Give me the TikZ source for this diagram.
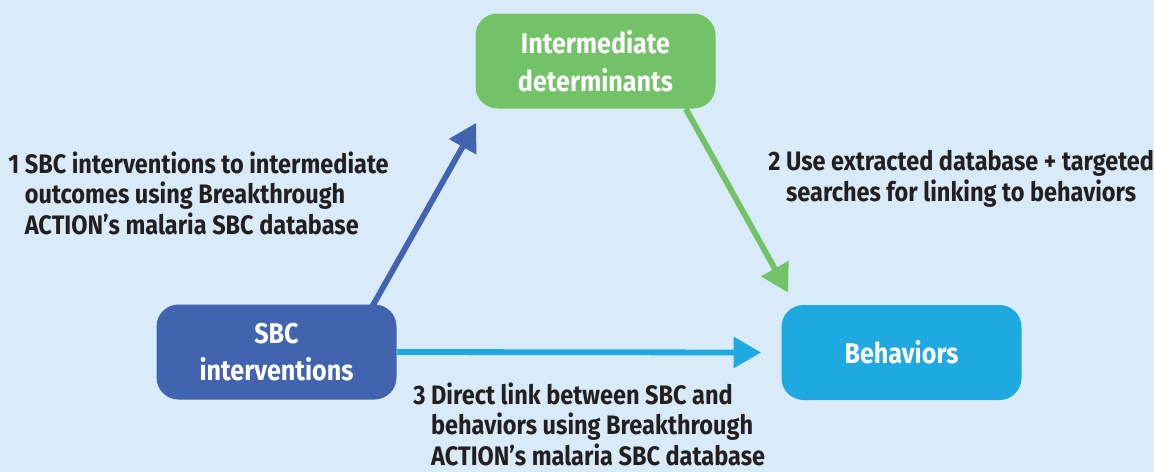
\documentclass[tikz,border=0pt]{standalone}
\usepackage{fontspec}
\setmainfont{Fira Sans}[FakeStretch=0.88]
\usetikzlibrary{arrows.meta}
\definecolor{sfondo}{HTML}{D9EBF8}
\definecolor{verde}{HTML}{72C267}
\definecolor{blu}{HTML}{4264AE}
\definecolor{azzurro}{HTML}{1EA9E1}
\definecolor{testo}{HTML}{231F20}
\tikzset{
  box/.style={rounded corners=0.44cm, minimum width=4.8cm, minimum height=1.9cm,
    text=white, align=center, font=\bfseries\fontsize{16.25}{21.5}\selectfont},
  freccia/.style={line width=3.3pt, -{Triangle[length=0.55cm,width=0.6cm]}},
  nota/.style={anchor=north west, inner sep=0pt, align=left, text=testo,
    font=\bfseries\fontsize{15.2}{17.6}\selectfont}
}
\begin{document}
\begin{tikzpicture}
  \useasboundingbox (0,0) rectangle (23.08,-9.44);
  \fill[sfondo] (0,0) rectangle (23.08,-9.44);

  %% blocchi
  \node[box, fill=verde] (inter) at (11.91,-1.22) {Intermediate\\determinants};
  \node[box, fill=blu] (sbc) at (5.53,-7.04) {SBC\\interventions};
  \node[box, fill=azzurro] (behav) at (18.03,-7.05) {Behaviors};

  %% frecce
  \coordinate (p1) at ([shift={(0.02,-0.28)}]inter.south west);
  \coordinate (p2) at ([shift={(0.14,0.24)}]behav.north west);
  \draw[freccia, blu] ([shift={(-0.5,-0.06)}]sbc.north east) -- (p1);
  \draw[freccia, verde] ([xshift=-0.6cm]inter.south east) -- (p2);
  \draw[freccia, azzurro] (sbc.east) -- ([xshift=-0.4cm]behav.west);

  %% etichette
  \node[nota] (n1) at (0.16,-3.02) {1 SBC interventions to intermediate\\
    \phantom{1 }outcomes using Breakthrough\\
    \phantom{1 }ACTION’s malaria SBC database};
  \node[nota] (n2) at (15.36,-3.0) {2 Use extracted database + targeted\\
    \phantom{2 }searches for linking to behaviors};
  \node[nota] (n3) at (8.26,-7.64) {3 Direct link between SBC and\\
    \phantom{3 }behaviors using Breakthrough\\
    \phantom{3 }ACTION’s malaria SBC database};
\end{tikzpicture}
\end{document}
